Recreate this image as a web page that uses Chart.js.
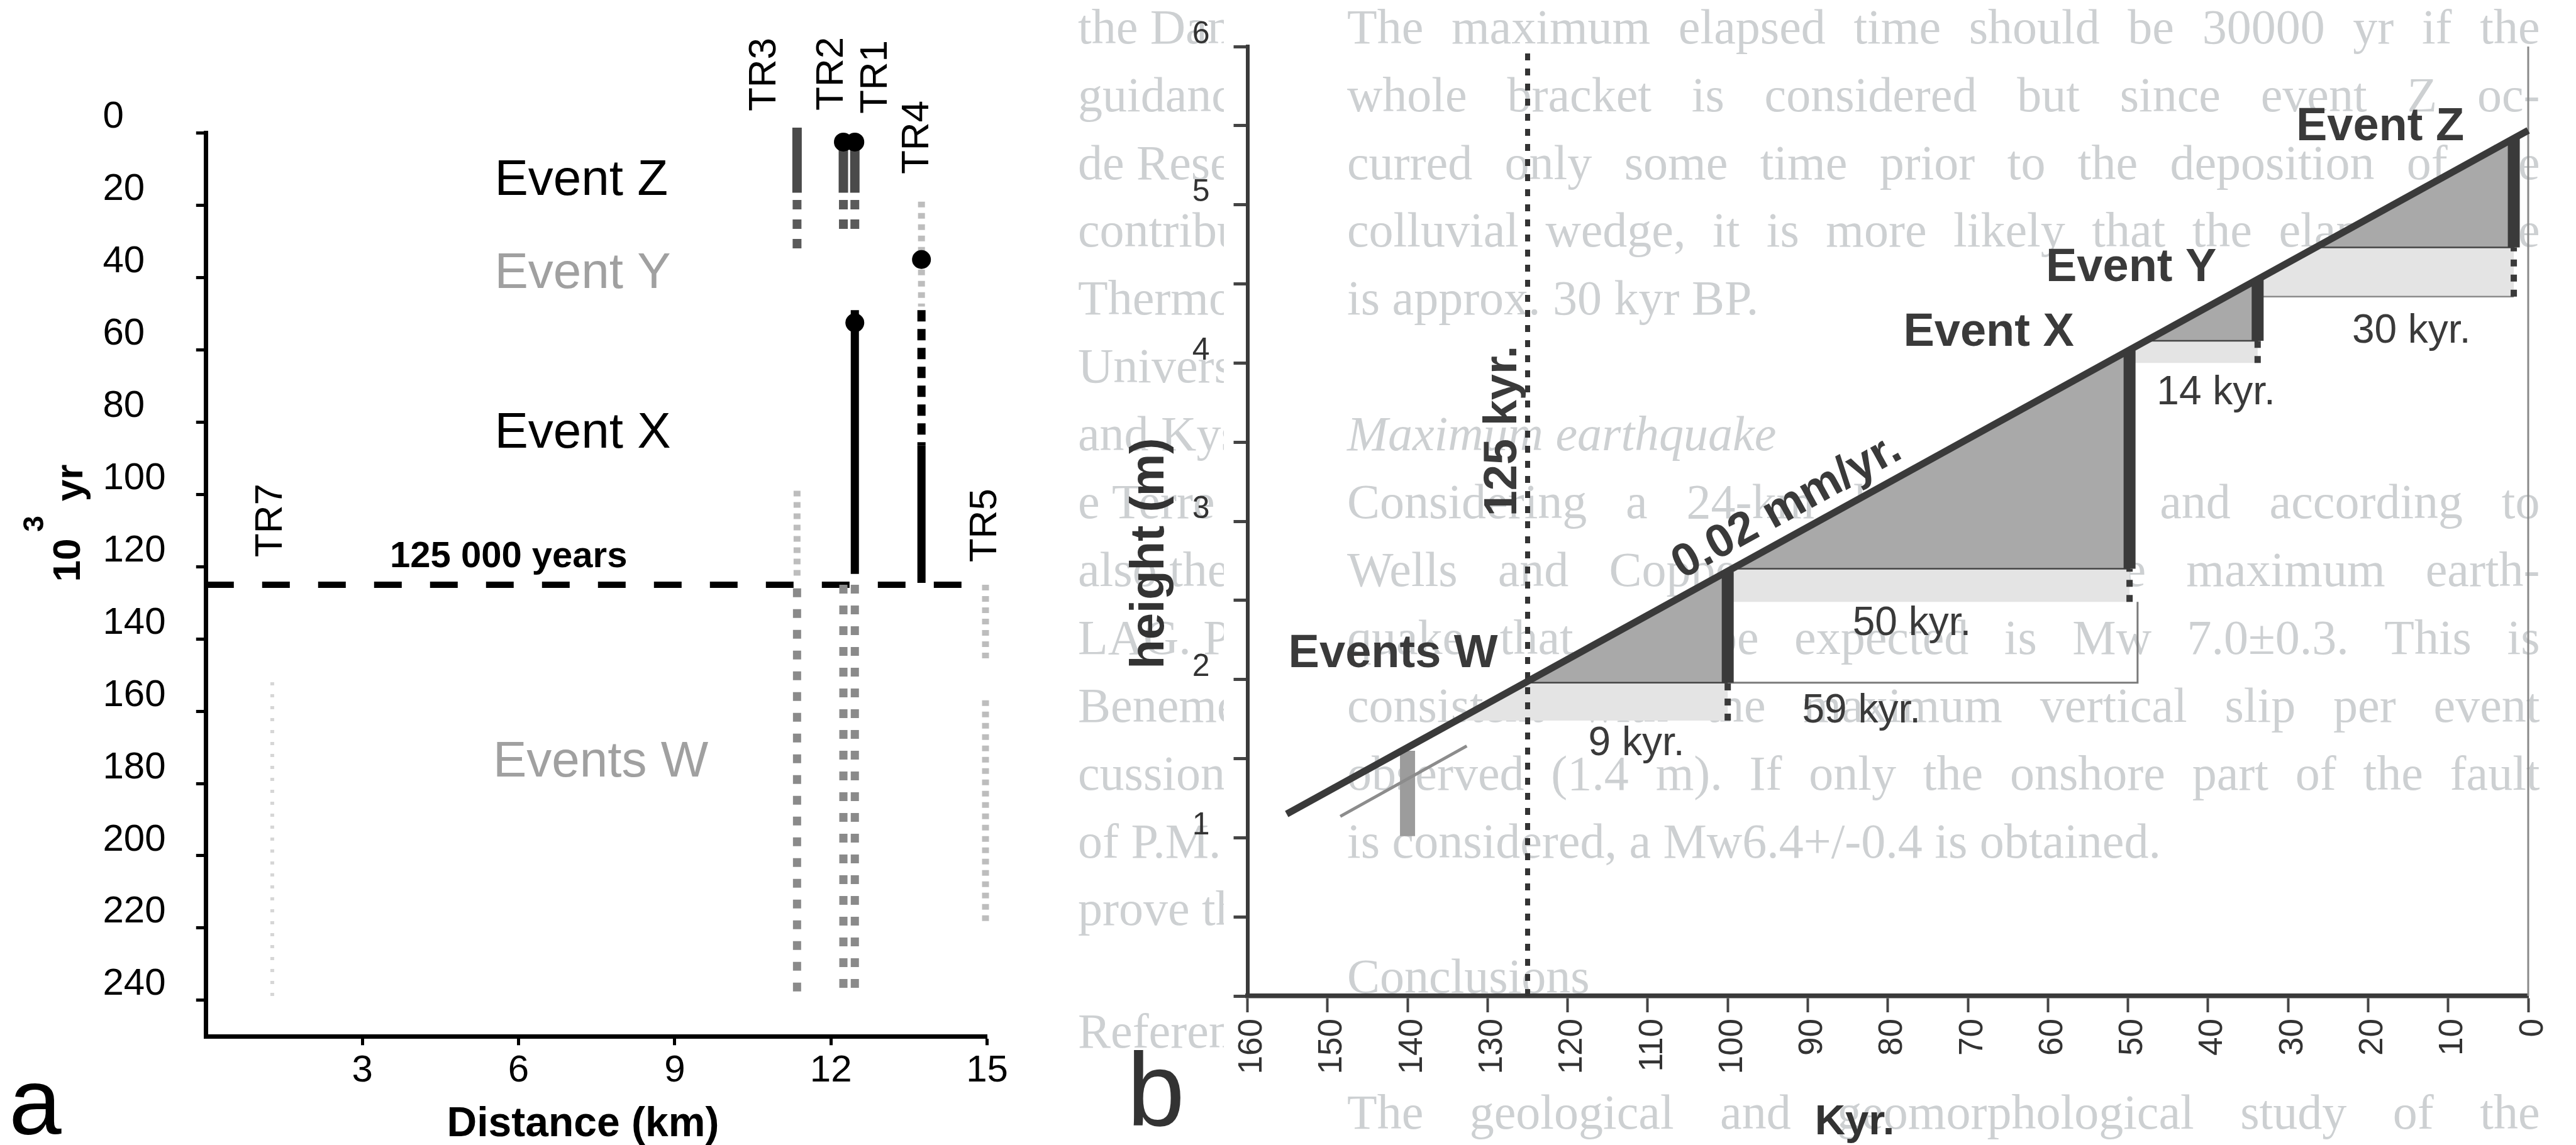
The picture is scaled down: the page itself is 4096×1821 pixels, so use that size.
<!DOCTYPE html>
<html>
<head>
<meta charset="utf-8">
<script src="https://cdn.jsdelivr.net/npm/chart.js@4.4.0/dist/chart.umd.min.js"></script>
<style>
  html, body { margin: 0; padding: 0; background: #fff; width: 4096px; height: 1821px; overflow: hidden; }
  canvas { position: absolute; top: 0; }
  #chartA { left: 0; }
  #chartB { left: 1708px; }
</style>
</head>
<body>
<canvas id="chartA" width="1708" height="1821"></canvas>
<canvas id="chartB" width="2388" height="1821"></canvas>
<script>
// ---------- panel a : trench logs (distance km / age 10^3 yr) ----------
const distTicks = [3, 6, 9, 12, 15];
const ageTicks = [0, 20, 40, 60, 80, 100, 120, 140, 160, 180, 200, 220, 240];
const trenchNames = ['TR7', 'TR3', 'TR2', 'TR1', 'TR4', 'TR5'];
const trenchKm = [1.27, 11.35, 12.24, 12.46, 13.74, 14.97];
// [trench index, from age, to age]
const blackSolid = [[3, 49, 122], [4, 86.5, 124.5]];
const blackDashed = [[4, 49, 86.5]];
const greyBar = [[1, -1.5, 16.5], [2, 2.5, 16.5], [3, 2.5, 16.5]];
const greyDashed = [[1, 18.5, 33.5], [2, 18.5, 27.5], [3, 18.5, 27.5]];
const greyDots = [[1, 126, 240], [2, 125, 238], [3, 125, 238]];
const paleDots = [[1, 99, 124], [4, 19, 48], [5, 125, 146], [5, 157, 219]];
const faintDots = [[0, 152, 240]];
// [trench index, age]
const eventDots = [[2, 2.5], [3, 2.5], [3, 52.5], [4, 35]];
const limitAge = 125;
const limitKm = [0, 14.6];

// ---------- panel b : slip history (Kyr / height m) ----------
const kyrTicks = [0, 10, 20, 30, 40, 50, 60, 70, 80, 90, 100, 110, 120, 130, 140, 150, 160];
const slipAge = [155.1, 0];
const slipHeight = [1.15, 5.47];
const eventAge = [100, 49.8, 33.8, 1.8];
const eventBase = [1.98, 2.70, 4.14, 4.73];
const eventTop = [2.68, 4.08, 4.53, 5.42];
const eventFloor = [1.74, 2.49, 4.00, 4.42];
const wedgeA = [[125, 1.98], [100, 1.98], [100, 2.68], [125, 1.98]];
const wedgeB = [[99.4, 2.70], [49.8, 2.70], [49.8, 4.08], [99.4, 2.70]];
const wedgeC = [[47.7, 4.14], [33.8, 4.14], [33.8, 4.53], [47.7, 4.14]];
const wedgeD = [[26.6, 4.73], [1.8, 4.73], [1.8, 5.42], [26.6, 4.73]];
const bandA = [[133.9, 1.74], [100, 1.74], [100, 1.98], [125, 1.98], [133.9, 1.74]];
const bandB = [[100, 2.49], [49.8, 2.49], [49.8, 2.70], [100, 2.70], [100, 2.49]];
const bandC = [[49.8, 4.00], [33.8, 4.00], [33.8, 4.14], [47.7, 4.14], [49.8, 4.08], [49.8, 4.00]];
const bandD = [[33.8, 4.42], [1.8, 4.42], [1.8, 4.73], [26.6, 4.73], [33.8, 4.53], [33.8, 4.42]];
const boxOutline = [[100, 1.98], [48.8, 1.98], [48.8, 2.49]];
const bandDFloor = [[33.8, 4.42], [1.8, 4.42]];
const markerAge = 125;
const wBar = [140, 1.01, 1.55];
const wTrace = [[148.4, 1.135], [132.6, 1.58]];

// faint text from the printed page showing through behind panel b
const pageRows = [
  'The maximum elapsed time should be 30000 yr if the',
  'whole bracket is considered but since event Z oc-',
  'curred only some time prior to the deposition of the',
  'colluvial wedge, it is more likely that the elapsed time',
  'is approx. 30 kyr BP.',
  '',
  'Maximum earthquake',
  'Considering a 24-km long rupture and according to',
  'Wells and Coppersmith (1994), the maximum earth-',
  'quake that can be expected is Mw 7.0\u00b10.3. This is',
  'consistent with the maximum vertical slip per event',
  'observed (1.4 m). If only the onshore part of the fault',
  'is considered, a Mw6.4+/-0.4 is obtained.',
  '',
  'Conclusions',
  '',
  'The geological and geomorphological study of the'
];
const pageRowsLoose = [4, 6, 12, 14, 15];
const sideRows = ['the Danish', 'guidance', 'de Research', 'contribution', 'Thermo', 'University',
  'and Kyst', 'e Terre', 'also the', 'LAG. P.', 'Benemerito', 'cussions', 'of P.M.', 'prove the'];

const FONT = "'Liberation Sans', Arial, Helvetica, sans-serif";
const SERIF = "'Liberation Serif', 'Times New Roman', serif";
Chart.defaults.font.family = FONT;
Chart.defaults.color = '#000';

function trenchSegments(list) {
  const pts = [];
  list.forEach(([i, from, to]) => {
    pts.push({x: trenchKm[i], y: from}, {x: trenchKm[i], y: to}, {x: trenchKm[i], y: null});
  });
  return pts;
}

function pts(list) {
  return list.map(([x, y]) => ({x, y}));
}

function lineSet(data, color, width, dash, extra) {
  return Object.assign({
    data, showLine: true, borderColor: color, backgroundColor: color,
    borderWidth: width, borderDash: dash || [], pointRadius: 0, clip: false, spanGaps: false
  }, extra || {});
}

function stack(sets) {
  // listed bottom to top; lower order is drawn on top
  sets.forEach((s, i) => { s.order = sets.length - i; });
  return sets;
}

function text(ctx, t, x, y, font, color, align, rot) {
  ctx.save();
  ctx.translate(x, y);
  if (rot) ctx.rotate(rot);
  ctx.font = font;
  ctx.fillStyle = color;
  ctx.textAlign = align || 'center';
  ctx.textBaseline = 'middle';
  ctx.fillText(t, 0, 0);
  ctx.restore();
}

// ---------------- panel a ----------------
const labelsA = [
  {t: 'Event Z', x: 5.54, y: 13.2, f: '80px', c: '#000', a: 'left'},
  {t: 'Event Y', x: 5.54, y: 39.1, f: '80px', c: '#a0a0a0', a: 'left'},
  {t: 'Event X', x: 5.54, y: 83.2, f: '80px', c: '#000', a: 'left'},
  {t: 'Events W', x: 5.51, y: 174.3, f: '80px', c: '#a0a0a0', a: 'left'},
  {t: '125 000 years', x: 5.81, y: 117.3, f: 'bold 58px', c: '#000'},
  {t: 'TR7', x: 1.25, y: 107.2, f: '62px', c: '#000', r: true},
  {t: 'TR3', x: 10.73, y: -16.2, f: '62px', c: '#000', r: true},
  {t: 'TR2', x: 12.02, y: -16.4, f: '62px', c: '#000', r: true},
  {t: 'TR1', x: 12.87, y: -15.5, f: '62px', c: '#000', r: true},
  {t: 'TR4', x: 13.66, y: 1.2, f: '62px', c: '#000', r: true},
  {t: 'TR5', x: 14.97, y: 108.6, f: '62px', c: '#000', r: true}
];

const notesA = {
  id: 'notesA',
  afterDraw(chart) {
    const ctx = chart.ctx, xs = chart.scales.x, ys = chart.scales.y;
    labelsA.forEach(l => {
      text(ctx, l.t, xs.getPixelForValue(l.x), ys.getPixelForValue(l.y), l.f + ' ' + FONT, l.c, l.a,
        l.r ? -Math.PI / 2 : 0);
    });
    text(ctx, 'Distance (km)', 927, 1789, 'bold 66px ' + FONT, '#000');
    text(ctx, 'a', 56, 1763, '150px ' + FONT, '#000');
    text(ctx, '10', 110, 891, 'bold 62px ' + FONT, '#000', 'center', -Math.PI / 2);
    text(ctx, '3', 56, 833, 'bold 46px ' + FONT, '#000', 'center', -Math.PI / 2);
    text(ctx, 'yr', 114, 768, 'bold 62px ' + FONT, '#000', 'center', -Math.PI / 2);
  }
};

new Chart(document.getElementById('chartA'), {
  type: 'scatter',
  data: {
    datasets: stack([
      lineSet(pts([[limitKm[0], limitAge], [limitKm[1], limitAge]]), '#000', 10, [44, 45]),
      lineSet(trenchSegments(faintDots), '#d6d6d6', 6, [5, 14]),
      lineSet(trenchSegments(paleDots), '#bdbdbd', 11, [9, 9]),
      lineSet(trenchSegments(greyDots), '#8a8a8a', 13, [14, 19]),
      lineSet(trenchSegments(greyDashed), '#5a5a5a', 14, [15, 16]),
      lineSet(trenchSegments(greyBar), '#4a4a4a', 15),
      lineSet(trenchSegments(blackDashed), '#000', 13, [18, 12]),
      lineSet(trenchSegments(blackSolid), '#000', 13),
      {
        data: eventDots.map(([i, a]) => ({x: trenchKm[i], y: a})),
        pointRadius: 15, pointBackgroundColor: '#000', pointBorderWidth: 0, showLine: false, clip: false
      }
    ])
  },
  options: {
    responsive: false,
    animation: false,
    devicePixelRatio: 1,
    layout: {autoPadding: false, padding: {left: 163.5, top: 211.6, right: 138.5, bottom: 0}},
    plugins: {legend: {display: false}, tooltip: {enabled: false}},
    scales: {
      x: {
        type: 'linear', min: 0, max: 15,
        afterBuildTicks: s => { s.ticks = distTicks.map(v => ({value: v})); },
        afterFit: s => { s.height = 172.7; },
        ticks: {font: {size: 60}, color: '#000', padding: 5, maxRotation: 0},
        grid: {drawOnChartArea: false, tickLength: 14, tickWidth: 5, tickColor: '#000'},
        border: {display: true, color: '#000', width: 7}
      },
      y: {
        type: 'linear', reverse: true, min: 0, max: 250,
        afterBuildTicks: s => { s.ticks = ageTicks.map(v => ({value: v})); },
        afterFit: s => { s.width = 164.3; },
        ticks: {font: {size: 60}, color: '#000', crossAlign: 'far', labelOffset: -25},
        grid: {drawOnChartArea: false, tickLength: 16, tickWidth: 5, tickColor: '#000'},
        border: {display: true, color: '#000', width: 7}
      }
    }
  },
  plugins: [notesA]
});

// ---------------- panel b ----------------
const INK = '#3a3a3a';
const labelsB = [
  {t: 'Event Z', x: 18.5, y: 5.49, f: 'bold 74px'},
  {t: 'Event Y', x: 49.6, y: 4.60, f: 'bold 74px'},
  {t: 'Event X', x: 67.4, y: 4.19, f: 'bold 74px'},
  {t: 'Events W', x: 141.8, y: 2.16, f: 'bold 74px'},
  {t: '125 kyr.', x: 128, y: 3.57, f: 'bold 74px', r: -Math.PI / 2},
  {t: '9 kyr.', x: 111.4, y: 1.59, f: '64px'},
  {t: '59 kyr.', x: 83.3, y: 1.80, f: '64px'},
  {t: '50 kyr.', x: 77, y: 2.35, f: '64px'},
  {t: '14 kyr.', x: 39.0, y: 3.81, f: '64px'},
  {t: '30 kyr.', x: 14.6, y: 4.20, f: '64px'}
];

const COL_L = 434, COL_R = 2330.5, ROW0 = 48.3, ROW_H = 107.9;

const pageB = {
  id: 'pageB',
  beforeDraw(chart) {
    const ctx = chart.ctx;
    ctx.save();
    ctx.fillStyle = '#cdd0d2';
    ctx.textBaseline = 'middle';
    ctx.textAlign = 'left';
    pageRows.forEach((row, i) => {
      if (!row) return;
      const y = ROW0 + ROW_H * i;
      ctx.font = (i === 6 ? 'italic ' : '') + '78px ' + SERIF;
      if (pageRowsLoose.includes(i)) {
        ctx.fillText(row, COL_L, y);
        return;
      }
      const words = row.split(' ');
      const used = words.reduce((s, w) => s + ctx.measureText(w).width, 0);
      const gap = (COL_R - COL_L - used) / (words.length - 1);
      let x = COL_L;
      words.forEach(w => { ctx.fillText(w, x, y); x += ctx.measureText(w).width + gap; });
    });
    // the neighbouring column is cut off where the figure starts
    ctx.beginPath();
    ctx.rect(0, 0, 238, 1821);
    ctx.clip();
    ctx.font = '78px ' + SERIF;
    sideRows.forEach((row, i) => ctx.fillText(row, 6, ROW0 + ROW_H * i));
    ctx.fillText('References', 6, ROW0 + ROW_H * 14.8);
    ctx.restore();
  },
  afterDraw(chart) {
    const ctx = chart.ctx, xs = chart.scales.x, ys = chart.scales.y;
    labelsB.forEach(l => {
      text(ctx, l.t, xs.getPixelForValue(l.x), ys.getPixelForValue(l.y), l.f + ' ' + FONT, INK, 'center', l.r || 0);
    });
    const ang = Math.atan2(ys.getPixelForValue(slipHeight[1]) - ys.getPixelForValue(slipHeight[0]),
      xs.getPixelForValue(slipAge[1]) - xs.getPixelForValue(slipAge[0]));
    text(ctx, '0.02 mm/yr.', xs.getPixelForValue(92.6), ys.getPixelForValue(3.09), 'bold 74px ' + FONT, INK, 'center', ang);
    text(ctx, 'height (m)', 120.6, 880, 'bold 76px ' + FONT, '#333', 'center', -Math.PI / 2);
    text(ctx, 'Kyr.', 1241, 1786, 'bold 67px ' + FONT, '#333');
    text(ctx, 'b', 130, 1744, '165px ' + FONT, '#333');
  }
};

function poly(list, fillColor, edge) {
  return lineSet(pts(list), edge || fillColor, edge ? 2.5 : 0, [], {fill: 'shape', backgroundColor: fillColor});
}

function eventSegments(from, to) {
  const out = [];
  eventAge.forEach((k, i) => { out.push({x: k, y: from[i]}, {x: k, y: to[i]}, {x: k, y: null}); });
  return out;
}

new Chart(document.getElementById('chartB'), {
  type: 'scatter',
  data: {
    datasets: stack([
      poly(bandA, '#e4e4e4'),
      poly(bandB, '#e4e4e4'),
      poly(bandC, '#e4e4e4'),
      poly(bandD, '#e4e4e4'),
      poly(wedgeA, '#a9a9a9', '#444'),
      poly(wedgeB, '#a9a9a9', '#444'),
      poly(wedgeC, '#a9a9a9', '#444'),
      poly(wedgeD, '#a9a9a9', '#444'),
      lineSet(pts(boxOutline), '#7a7a7a', 3),
      lineSet(pts(bandDFloor), '#8a8a8a', 2.5),
      lineSet(pts([[0, 0], [0, 6]]), '#8a8a8a', 3),
      lineSet(pts([[markerAge, 0], [markerAge, 6]]), '#333', 8, [11, 13]),
      lineSet(pts([[wBar[0], wBar[1]], [wBar[0], wBar[2]]]), '#9c9c9c', 24),
      lineSet(pts(wTrace), '#8c8c8c', 5),
      lineSet(pts([[slipAge[0], slipHeight[0]], [slipAge[1], slipHeight[1]]]), INK, 11),
      lineSet(eventSegments(eventFloor, eventBase), INK, 10, [11, 13]),
      lineSet(eventSegments(eventBase, eventTop), INK, 19)
    ])
  },
  options: {
    responsive: false,
    animation: false,
    devicePixelRatio: 1,
    layout: {autoPadding: false, padding: {left: 0, top: 74, right: 76, bottom: 0}},
    plugins: {legend: {display: false}, tooltip: {enabled: false}},
    scales: {
      x: {
        type: 'linear', reverse: true, min: 0, max: 160,
        afterBuildTicks: s => { s.ticks = kyrTicks.map(v => ({value: v})); },
        afterFit: s => { s.height = 237; },
        ticks: {
          font: {size: 53}, color: '#333', padding: 10, minRotation: 90, maxRotation: 90,
          autoSkip: false, labelOffset: 8,
          callback: v => ' '.repeat((3 - String(v).length) * 2) + v
        },
        grid: {drawOnChartArea: false, tickLength: 26, tickWidth: 4, tickColor: '#444'},
        border: {display: true, color: INK, width: 7.5}
      },
      y: {
        type: 'linear', min: 0, max: 6,
        ticks: {
          stepSize: 0.5, font: {size: 50}, color: '#333', padding: 38, labelOffset: -19,
          callback: v => (Number.isInteger(v) && v > 0) ? String(v) : ''
        },
        afterFit: s => { s.width = 275.5; },
        grid: {drawOnChartArea: false, tickLength: 22, tickWidth: 5, tickColor: '#444'},
        border: {display: true, color: INK, width: 6}
      }
    }
  },
  plugins: [pageB]
});
</script>
</body>
</html>
